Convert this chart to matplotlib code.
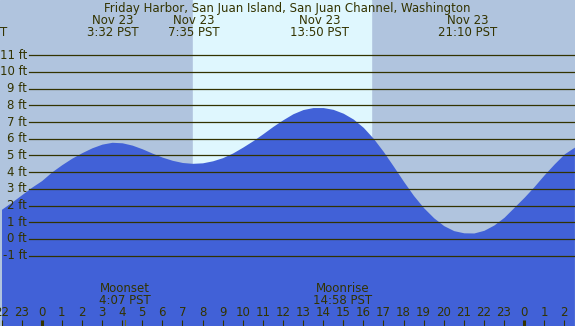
"""Tide chart: Friday Harbor, San Juan Island (Nov 23)."""
import matplotlib
matplotlib.use("Agg")
import matplotlib.pyplot as plt

plt.rcParams["font.family"] = ["DejaVu Sans"]
FS = 8.5

TITLE = "Friday Harbor, San Juan Island, San Juan Channel, Washington"

# tide height (ft) every half hour, hours from midnight Nov 23
hours = [-2.0 + 0.5 * i for i in range(58)]
level = [1.78, 2.2, 2.65, 3.1, 3.5, 4.02, 4.45, 4.84, 5.17, 5.46,
         5.68, 5.79, 5.76, 5.62, 5.4, 5.14, 4.9, 4.71, 4.58, 4.53,
         4.56, 4.68, 4.87, 5.15, 5.5, 5.88, 6.3, 6.74, 7.14, 7.5,
         7.75, 7.87, 7.87, 7.76, 7.53, 7.18, 6.68, 6.02, 5.23, 4.35,
         3.45, 2.6, 1.87, 1.27, 0.8, 0.5, 0.37, 0.36, 0.52, 0.84,
         1.3, 1.9, 2.5, 3.15, 3.85, 4.5, 5.1, 5.5]

# tide extremes shown along the top
ext_hours = [3.53, 7.58, 13.83, 21.17]
ext_dates = ["Nov 23", "Nov 23", "Nov 23", "Nov 23"]
ext_times = ["3:32 PST", "7:35 PST", "13:50 PST", "21:10 PST"]

sunrise, sunset = 7.53, 16.38

moon_hours = [4.12, 14.97]
moon_names = ["Moonset", "Moonrise"]
moon_times = ["4:07 PST", "14:58 PST"]

ft_levels = list(range(-1, 12))
tick_hours = list(range(-2, 27))

NIGHT = "#B0C4DE"
DAY = "#DFF7FE"
WATER = "#4161D7"
INK = "#333300"

X0, X1 = -2.075, 26.53
Y0, Y1 = -5.21, 14.31

fig = plt.figure(figsize=(5.75, 3.26), dpi=100)
ax = fig.add_axes([0, 0, 1, 1])
ax.set_xlim(X0, X1)
ax.set_ylim(Y0, Y1)
ax.axis("off")

ax.axvspan(X0, X1, color=NIGHT, zorder=0)
ax.axvspan(sunrise, sunset, color=DAY, zorder=0.5)
ax.fill_between(hours, level, Y0, color=WATER, lw=0, zorder=1)

for f in ft_levels:
    ax.axhline(f, xmin=29 / 575, xmax=1, color=INK, lw=0.9, zorder=2)
    ax.text(-0.72, f, f"{f} ft", ha="right", va="center", fontsize=FS, color=INK)

ax.text((X0 + X1) / 2, 13.62, TITLE, ha="center", va="baseline", fontsize=FS, color=INK)
for h, d, t in zip(ext_hours, ext_dates, ext_times):
    ax.text(h, 12.87, d, ha="center", va="baseline", fontsize=FS, color=INK)
    ax.text(h, 12.16, t, ha="center", va="baseline", fontsize=FS, color=INK)
ax.text(X0 + 0.35, 12.16, "T", ha="right", va="baseline", fontsize=FS, color=INK)

for h, n, t in zip(moon_hours, moon_names, moon_times):
    ax.text(h, -3.17, n, ha="center", va="baseline", fontsize=FS, color=INK)
    ax.text(h, -3.89, t, ha="center", va="baseline", fontsize=FS, color=INK)
    ax.plot([h, h], [Y0, -4.83], color="#6b6b20", lw=0.8, zorder=3)

for h in tick_hours:
    ax.text(h, -4.63, str(h % 24), ha="center", va="baseline", fontsize=FS, color=INK)
    ax.plot([h, h], [Y0, -4.83], color=INK, lw=2.2 if h % 24 == 0 else 0.8, zorder=3,
            solid_capstyle="butt")

fig.savefig("out.png", dpi=100)
